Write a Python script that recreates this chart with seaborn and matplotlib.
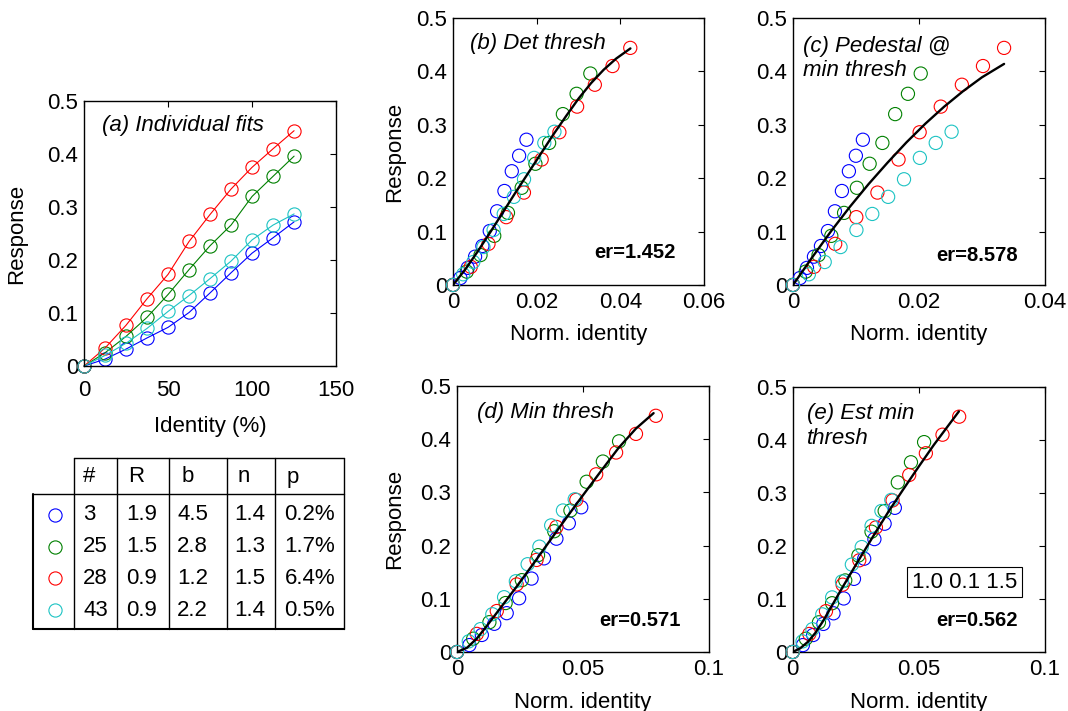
import numpy as np
import pandas as pd
import matplotlib
matplotlib.use("Agg")
import matplotlib.pyplot as plt
import seaborn as sns

# --- values ---
identity = [0, 12.5, 25, 37.5, 50, 62.5, 75, 87.5, 100, 112.5, 125]
observers = ['3', '25', '28', '43']
obs_colors = ['#0000FF', '#008000', '#FF0000', '#1CC3C3']

resp_3 = [0, 0.013, 0.032, 0.053, 0.073, 0.101, 0.138, 0.176, 0.213, 0.242, 0.272]
resp_25 = [0, 0.025, 0.056, 0.092, 0.135, 0.182, 0.227, 0.266, 0.320, 0.358, 0.396]
resp_28 = [0, 0.034, 0.077, 0.127, 0.173, 0.235, 0.286, 0.334, 0.375, 0.410, 0.444]
resp_43 = [0, 0.020, 0.043, 0.071, 0.103, 0.133, 0.165, 0.198, 0.238, 0.266, 0.287]
responses = [resp_3, resp_25, resp_28, resp_43]

# normalised identity reached at 125% identity, per observer, per panel
xmax_det = [0.01755, 0.03282, 0.04237, 0.02424]
xmax_ped = [0.01109, 0.02027, 0.0335, 0.02517]
xmax_min = [0.0493, 0.0643, 0.0789, 0.0467]
xmax_est = [0.0405, 0.0521, 0.0660, 0.0391]

# pooled fit curves (black lines)
fit_det_x = [0, 0.003, 0.006, 0.009, 0.012, 0.015, 0.018, 0.021, 0.024, 0.027,
             0.030, 0.033, 0.036, 0.039, 0.0424]
fit_det_y = [0, 0.030, 0.064, 0.100, 0.137, 0.174, 0.210, 0.246, 0.282, 0.316,
             0.349, 0.378, 0.403, 0.424, 0.443]
fit_ped_x = [0, 0.003, 0.006, 0.009, 0.012, 0.015, 0.018, 0.021, 0.024, 0.027,
             0.030, 0.0335]
fit_ped_y = [0, 0.051, 0.100, 0.146, 0.189, 0.229, 0.267, 0.302, 0.334, 0.363,
             0.389, 0.414]
fit_min_x = [0, 0.004, 0.008, 0.012, 0.016, 0.024, 0.032, 0.040, 0.048, 0.056,
             0.064, 0.071, 0.078]
fit_min_y = [0, 0.008, 0.026, 0.050, 0.075, 0.125, 0.177, 0.230, 0.282, 0.333,
             0.383, 0.420, 0.449]
fit_est_x = [0, 0.003, 0.006, 0.009, 0.012, 0.016, 0.020, 0.026, 0.032, 0.038,
             0.044, 0.050, 0.056, 0.0659]
fit_est_y = [0, 0.007, 0.019, 0.036, 0.058, 0.091, 0.124, 0.172, 0.219, 0.265,
             0.308, 0.350, 0.391, 0.454]

resp_ticks = [0, 0.1, 0.2, 0.3, 0.4, 0.5]
resp_ticklabels = ['0', '0.1', '0.2', '0.3', '0.4', '0.5']

# table under panel (a)
tab_header = ['#', 'R', 'b', 'n', 'p']
tab_R = ['1.9', '1.5', '0.9', '0.9']
tab_b = ['4.5', '2.8', '1.2', '2.2']
tab_n = ['1.4', '1.3', '1.5', '1.4']
tab_p = ['0.2%', '1.7%', '6.4%', '0.5%']

sns.set_style("white")
plt.rcParams['font.family'] = ['Liberation Sans', 'DejaVu Sans']
plt.rcParams['text.color'] = 'k'
plt.rcParams['axes.labelcolor'] = 'k'
FS = 16

fig = plt.figure(figsize=(10.68, 7.11), dpi=100)


def style_axes(ax, xlim, xticks, xticklabels, xpad=5):
    ax.set_xlim(xlim)
    ax.set_ylim(0, 0.5)
    ax.set_xticks(xticks)
    ax.set_xticklabels(xticklabels)
    ax.set_yticks(resp_ticks)
    ax.set_yticklabels(resp_ticklabels)
    ax.tick_params(direction='in', top=True, right=True, length=4, width=0.8,
                   labelsize=FS, colors='k', pad=4)
    ax.tick_params(axis='x', pad=xpad)
    for sp in ax.spines.values():
        sp.set_visible(True)
        sp.set_linewidth(1.0)
        sp.set_color('k')
    ax.set_xlabel('')
    ax.set_ylabel('')


def long_frame(xmax):
    rows = []
    for obs, resp, xm in zip(observers, responses, xmax):
        for idv, r in zip(identity, resp):
            rows.append({'obs': obs, 'x': idv / identity[-1] * xm, 'y': r})
    return pd.DataFrame(rows)


# ---- panel (a) ----
ax_a = fig.add_axes([0.0787, 0.4852, 0.2360, 0.3727])
rows = []
for obs, resp in zip(observers, responses):
    for idv, r in zip(identity, resp):
        rows.append({'obs': obs, 'identity': idv, 'resp': r})
df_a = pd.DataFrame(rows)
sns.lineplot(data=df_a, x='identity', y='resp', hue='obs', palette=obs_colors,
             marker='o', markersize=9.5, markerfacecolor='none', markeredgecolor='auto',
             markeredgewidth=0.8, linewidth=0.8, legend=False, ax=ax_a, clip_on=False)
style_axes(ax_a, (0, 150), [0, 50, 100, 150], ['0', '50', '100', '150'], xpad=10)
ax_a.set_xlabel('Identity (%)', fontsize=FS)
ax_a.set_ylabel('Response', fontsize=FS)
ax_a.xaxis.set_label_coords(0.5, -0.19)
ax_a.yaxis.set_label_coords(-0.226, 0.5)
ax_a.text(0.071, 0.909, '(a) Individual fits', transform=ax_a.transAxes,
          fontsize=FS, style='italic', ha='left', va='center')

# ---- panels (b)-(e) ----
panels = [
    ([0.4242, 0.5992, 0.2350, 0.3755], xmax_det, fit_det_x, fit_det_y,
     (0, 0.06), [0, 0.02, 0.04, 0.06], ['0', '0.02', '0.04', '0.06'],
     '(b) Det thresh', (0.068, 0.906), 'er=1.452', (0.888, 0.12), -0.191, -0.148),
    ([0.7425, 0.5992, 0.2360, 0.3755], xmax_ped, fit_ped_x, fit_ped_y,
     (0, 0.04), [0, 0.02, 0.04], ['0', '0.02', '0.04'],
     '(c) Pedestal @\nmin thresh', (0.04, 0.848), 'er=8.578', (0.893, 0.112), None, -0.148),
    ([0.4279, 0.0830, 0.2360, 0.3741], xmax_min, fit_min_x, fit_min_y,
     (0, 0.1), [0, 0.05, 0.1], ['0', '0.05', '0.1'],
     '(d) Min thresh', (0.079, 0.902), 'er=0.571', (0.889, 0.117), -0.206, -0.15),
    ([0.7422, 0.0830, 0.2362, 0.3727], xmax_est, fit_est_x, fit_est_y,
     (0, 0.1), [0, 0.05, 0.1], ['0', '0.05', '0.1'],
     '(e) Est min\nthresh', (0.056, 0.853), 'er=0.562', (0.893, 0.117), None, -0.15),
]

for (rect, xmax, fx, fy, xlim, xt, xtl, title, tpos, er, epos, ylab_x, xlab_y) in panels:
    ax = fig.add_axes(rect)
    df = long_frame(xmax)
    sns.scatterplot(data=df, x='x', y='y', hue='obs', palette=obs_colors, s=90,
                    linewidth=0.8, legend=False, ax=ax, clip_on=False, zorder=3)
    coll = ax.collections[-1]
    coll.set_edgecolors(coll.get_facecolors())
    coll.set_facecolors('none')
    sns.lineplot(x=fx, y=fy, color='k', linewidth=1.7, sort=False, estimator=None,
                 ax=ax, zorder=4)
    style_axes(ax, xlim, xt, xtl, xpad=5)
    ax.set_xlabel('Norm. identity', fontsize=FS)
    ax.xaxis.set_label_coords(0.5, xlab_y)
    if ylab_x is not None:
        ax.set_ylabel('Response', fontsize=FS)
        ax.yaxis.set_label_coords(ylab_x, 0.5)
    ax.text(tpos[0], tpos[1], title, transform=ax.transAxes, fontsize=FS,
            style='italic', ha='left', va='center', linespacing=1.2)
    ax.text(epos[0], epos[1], er, transform=ax.transAxes, fontsize=14.5,
            fontweight='bold', ha='right', va='center')
    if title.startswith('(e)'):
        ax.text(0.683, 0.264, '1.0 0.1 1.5', transform=ax.transAxes, fontsize=FS,
                ha='center', va='center',
                bbox=dict(boxstyle='square,pad=0.22', fc='white', ec='k', lw=0.8))

# ---- table of fitted parameters (drawn in figure pixels) ----
tab = fig.add_axes([0, 0, 1, 1])
tab.set_xlim(0, 1068)
tab.set_ylim(711, 0)
tab.axis('off')
lw = 1.0
tab.plot([74, 344], [458, 458], color='k', lw=lw)
tab.plot([33, 344], [494, 494], color='k', lw=lw)
tab.plot([33, 344], [629, 629], color='k', lw=1.5)
tab.plot([33, 33], [494, 629], color='k', lw=1.5)
for xv in [74, 117, 169, 227, 275, 344]:
    tab.plot([xv, xv], [458, 629], color='k', lw=lw)

for hx, h in zip([83, 128, 182, 238, 287], tab_header):
    tab.text(hx, 477, h, fontsize=16, ha='left', va='center')

row_y = [515, 547, 578, 610]
for i, yv in enumerate(row_y):
    tab.plot([55], [yv], marker='o', ms=9.5, mfc='none', mec=obs_colors[i], mew=0.8)
    tab.text(83, yv, observers[i], fontsize=16, ha='left', va='center')
    tab.text(157, yv, tab_R[i], fontsize=16, ha='right', va='center')
    tab.text(208, yv, tab_b[i], fontsize=16, ha='right', va='center')
    tab.text(265, yv, tab_n[i], fontsize=16, ha='right', va='center')
    tab.text(335, yv, tab_p[i], fontsize=16, ha='right', va='center')

fig.savefig('out.png', dpi=100)
